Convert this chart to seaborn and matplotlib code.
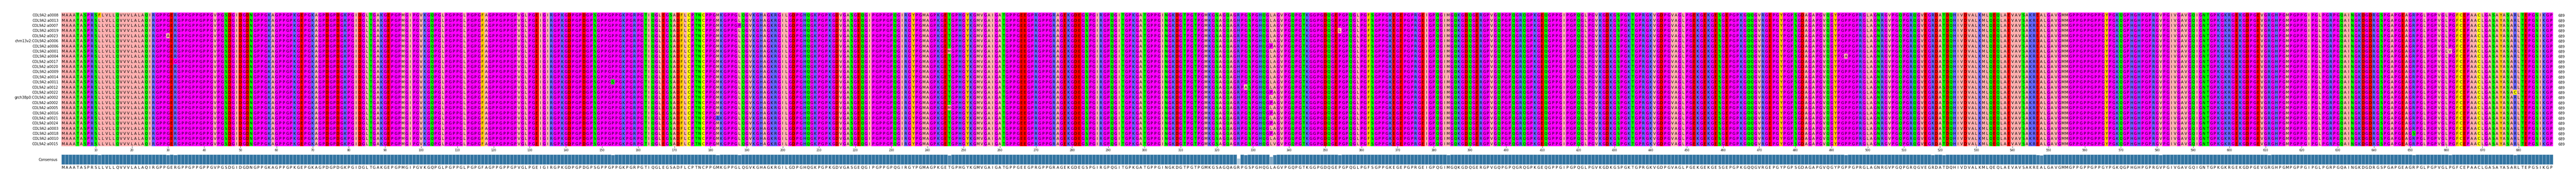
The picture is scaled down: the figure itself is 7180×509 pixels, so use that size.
import numpy as np
import pandas as pd
import matplotlib
matplotlib.use("Agg")
import matplotlib.pyplot as plt
from matplotlib.colors import ListedColormap, to_rgb
import seaborn as sns

# sequence names (top to bottom)
names = ["COL9A2:a0008", "COL9A2:a0013", "COL9A2:a0007", "COL9A2:a0019", "COL9A2:a0023",
         "chm13v2:COL9A2:a0006", "COL9A2:a0006", "COL9A2:a0001", "COL9A2:a0004", "COL9A2:a0017",
         "COL9A2:a0020", "COL9A2:a0009", "COL9A2:a0014", "COL9A2:a0011", "COL9A2:a0012",
         "COL9A2:a0022", "grch38p0:COL9A2:a0002", "COL9A2:a0002", "COL9A2:a0005", "COL9A2:a0016",
         "COL9A2:a0021", "COL9A2:a0024", "COL9A2:a0003", "COL9A2:a0018", "COL9A2:a0010",
         "COL9A2:a0015"]

# reference (consensus) sequence, 689 residues
ref_seq = ("MAAATASPRSLLVLLQVVVLALAQIRGPPGERGPPGPPGPPGVPGSDGIDGDNGPPGKAGPPGPKGEPG"
           "KAGPDGPDGKPGIDGLTGAKGEPGPMGIPGVKGQPGLPGPPGLPGPGFAGPPGPPGPVGLPGEIGIRGP"
           "KGDPGPDGPSGPPGPPGKPGRPGTIQGLEGSADFLCPTNCPPGMKGPPGLQGVKGHAGKRGILGDPGHQ"
           "GKPGPKGDVGASGEQGIPGPPGPQGIRGYPGMAGPKGETGPHGYKGMVGAIGATGPPGEEGPRGPPGRA"
           "GEKGDEGSPGIRGPQGITGPKGATGPPGINGKDGTPGTPGMKGSAGQAGRPGSPGHQGLAGVPGQPGT"
           "KGGPGDQGEPGPQGLPGFSGPPGKEGEPGPRGEIGPQGIMGQKGDQGERGPVGQPGPQGRQGPKGEQGP"
           "PGIPGPQGLPGVKGDKGSPGKTGPRGKVGDPGVAGLPGEKGEKGESGEPGPKGQQGVRGEPGYPGPSGD"
           "AGAPGVQGYPGPPGPRGLAGNRGVPGQPGRQGVEGRDATDQHIVDVALKMLQEQLAEVAVSAKREALGA"
           "VGMMGPPGPPGPPGYPGKQGPHGHPGPRGVPGIVGAVGQIGNTGPKGKRGEKGDPGEVGRGHPGMPGPP"
           "GIPGLPGRPGQAINGKDGDRGSPGAPGEAGRPGLPGPVGLPGFCEPAACLGASAYASARLTEPGSIKGP")

# (row, column 1-based, residue) differences from the reference
var_rows = [0, 4, 9, 13, 20, 2, 18, 7, 11, 16, 22, 24, 1, 3, 5, 8, 10, 12, 14, 17,
            19, 21, 23, 6, 15, 25, 3, 12, 8, 21, 14, 5, 19, 10, 2, 23, 15, 7, 18]
var_cols = [11, 30, 32, 153, 182, 188, 246, 246, 326, 326, 326, 326, 326, 326, 326, 326, 326, 326,
            328, 335, 335, 335, 335, 335, 335, 336, 354, 384, 494, 518, 521, 547, 548, 581,
            611, 651, 679, 661, 548]
var_res = list("FAGSRPMMHHHHHHHHHHAPPPPPPVLIAKSDVIKSCVV")

# Zappo colours
zappo = {"ILVAM": "#ffafaf", "FWY": "#ffc800", "KRH": "#6464ff", "DE": "#ff0000",
         "STNQ": "#00ff00", "PG": "#ff00ff", "C": "#ffff00"}
res_color = {}
for group, col in zappo.items():
    for r in group:
        res_color[r] = col
alphabet = sorted(res_color)

n_col = len(ref_seq)
rows = [list(ref_seq) for _ in names]
for r, c, a in zip(var_rows, var_cols, var_res):
    rows[r][c - 1] = a
letters = np.array(rows)
codes = np.vectorize(alphabet.index)(letters)
cmap = ListedColormap([res_color[a] for a in alphabet])

# consensus + identity
cons, ident = [], []
for j in range(n_col):
    vals, cnt = np.unique(letters[:, j], return_counts=True)
    cons.append(vals[cnt.argmax()])
    ident.append(cnt.max() / len(names))
ident = np.array(ident)

W, H = 7180, 510
fig = plt.figure(figsize=(W / 100, H / 100), dpi=100)
x0, x1 = 171 / W, 7116 / W
ax = fig.add_axes([x0, 1 - 410 / H, x1 - x0, 374 / H])
sns.heatmap(pd.DataFrame(codes, index=names), ax=ax, cmap=cmap, vmin=-0.5,
            vmax=len(alphabet) - 0.5, cbar=False, annot=letters, fmt="",
            annot_kws={"fontsize": 7.5, "color": "black"})
for t in ax.texts:
    t.set_color("black")
ax.set_yticks(np.arange(len(names)) + 0.5)
ax.set_yticklabels(names, fontsize=7, rotation=0)
ax.tick_params(axis="y", length=0, pad=6)
ticks = np.arange(10, n_col + 1, 10)
ax.set_xticks(ticks - 0.5)
ax.set_xticklabels([str(t) for t in ticks], fontsize=5.5, rotation=0)
ax.tick_params(axis="x", length=3, width=0.6, pad=1)

ax2 = ax.twinx()
ax2.set_ylim(ax.get_ylim())
ax2.set_yticks(np.arange(len(names)) + 0.5)
ax2.set_yticklabels([str(n_col)] * len(names), fontsize=7)
ax2.tick_params(axis="y", length=0, pad=10)
for s in ax2.spines.values():
    s.set_visible(False)

# consensus bars
axc = fig.add_axes([x0, 1 - 461 / H, x1 - x0, 28 / H])
base = np.array(to_rgb("#1f77b4"))
bar_cols = [tuple(base + (1 - base) * min(1, (1 - v) * 1.6)) for v in ident]
df = pd.DataFrame({"pos": np.arange(n_col), "ident": ident})
sns.barplot(data=df, x="pos", y="ident", hue="pos", palette=bar_cols, legend=False,
            width=1.0, edgecolor="#d0e0ee", linewidth=0.6, ax=axc)
axc.set_xlim(-0.5, n_col - 0.5)
axc.set_ylim(0, 1)
axc.set_xticks(np.arange(n_col))
axc.set_xticklabels(cons, fontsize=7.5)
axc.tick_params(axis="x", length=0, pad=2)
axc.set_yticks([])
axc.set_xlabel("")
axc.set_ylabel("")
for s in axc.spines.values():
    s.set_visible(False)
axc.text(-0.0016, 0.5, "Consensus", transform=axc.get_yaxis_transform(),
         ha="right", va="center", fontsize=7)

fig.savefig("out.png", dpi=100)
